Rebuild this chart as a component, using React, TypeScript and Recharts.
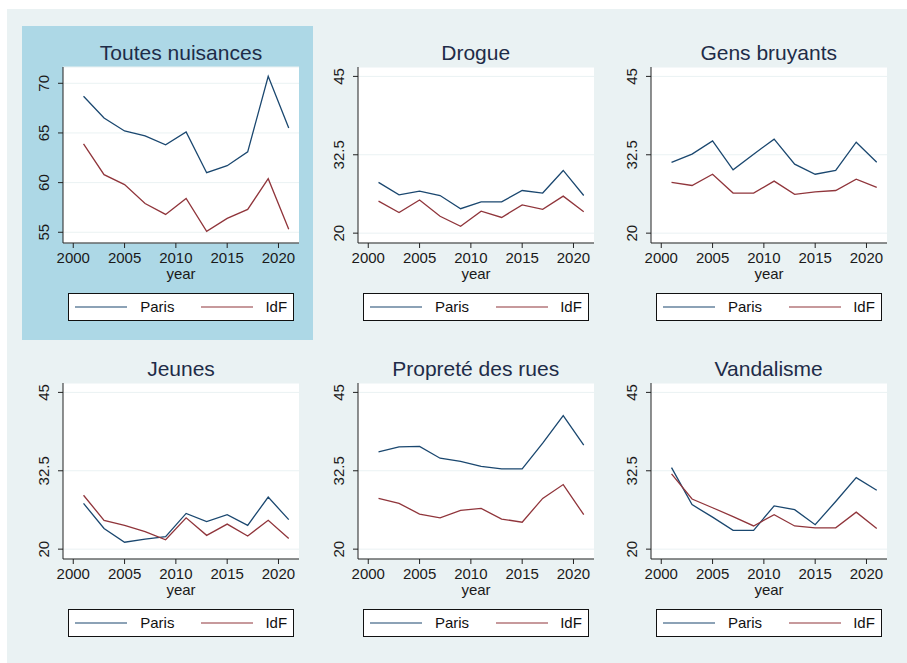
import { LineChart, Line, XAxis, YAxis, CartesianGrid } from "recharts";

const years = [2001, 2003, 2005, 2007, 2009, 2011, 2013, 2015, 2017, 2019, 2021];

const toutesParis = [68.7, 66.5, 65.2, 64.7, 63.8, 65.1, 61.0, 61.7, 63.1, 70.7, 65.5];
const toutesIdf = [63.9, 60.8, 59.8, 57.9, 56.8, 58.4, 55.1, 56.4, 57.3, 60.4, 55.3];
const drogueParis = [28.1, 26.1, 26.7, 26.0, 23.9, 25.0, 25.0, 26.8, 26.4, 30.0, 26.0];
const drogueIdf = [25.1, 23.3, 25.3, 22.7, 21.1, 23.5, 22.5, 24.5, 23.8, 25.9, 23.4];
const gensParis = [31.3, 32.6, 34.7, 30.1, 32.6, 35.0, 31.0, 29.4, 30.0, 34.5, 31.3];
const gensIdf = [28.1, 27.6, 29.4, 26.4, 26.4, 28.3, 26.2, 26.6, 26.8, 28.6, 27.3];
const jeunesParis = [27.3, 23.3, 21.1, 21.6, 22.0, 25.7, 24.4, 25.5, 23.8, 28.3, 24.7];
const jeunesIdf = [28.6, 24.6, 23.8, 22.8, 21.5, 25.0, 22.2, 24.0, 22.1, 24.6, 21.7];
const propreteParis = [35.5, 36.3, 36.4, 34.5, 34.0, 33.2, 32.8, 32.8, 36.9, 41.3, 36.6];
const propreteIdf = [28.1, 27.3, 25.6, 25.0, 26.2, 26.5, 24.8, 24.3, 28.1, 30.3, 25.5];
const vandalParis = [33.0, 27.1, 25.1, 23.0, 23.0, 26.9, 26.3, 23.9, 27.6, 31.4, 29.4];
const vandalIdf = [32.0, 28.0, 26.6, 25.2, 23.7, 25.5, 23.7, 23.4, 23.4, 25.9, 23.3];

const xTicks = [2000, 2005, 2010, 2015, 2020];
const firstTicks = [55, 60, 65, 70];
const otherTicks = [20, 32.5, 45];

const PARIS = "#1a476f";
const IDF = "#90353b";
const FONT = "'Liberation Sans', Arial, sans-serif";
const AXIS = "#222";

const toRows = (paris: number[], idf: number[]) =>
  years.map((year, i) => ({ year, Paris: paris[i], IdF: idf[i] }));

const panels = [
  { title: "Toutes nuisances", paris: toutesParis, idf: toutesIdf, ticks: firstTicks, domain: [53.92, 71.64] },
  { title: "Drogue", paris: drogueParis, idf: drogueIdf, ticks: otherTicks, domain: [18.43, 46.5] },
  { title: "Gens bruyants", paris: gensParis, idf: gensIdf, ticks: otherTicks, domain: [18.43, 46.5] },
  { title: "Jeunes", paris: jeunesParis, idf: jeunesIdf, ticks: otherTicks, domain: [18.43, 46.5] },
  { title: "Propreté des rues", paris: propreteParis, idf: propreteIdf, ticks: otherTicks, domain: [18.43, 46.5] },
  { title: "Vandalisme", paris: vandalParis, idf: vandalIdf, ticks: otherTicks, domain: [18.43, 46.5] },
];

const plotLefts = [63, 357.7, 650.7];
const plotTops = [67, 383.3];
const PLOT_W = 236;
const PLOT_H = 176;
const Y_W = 40;
const TOP = 5;

// rotated y tick labels, like stata
const YTick = (props: any) => {
  const { x, y, payload } = props;
  const bx = x - 6;
  return (
    <text x={bx} y={y} transform={`rotate(-90, ${bx}, ${y})`} textAnchor="middle" fontSize={15} fill="#1a1a1a" fontFamily={FONT}>
      {payload.value}
    </text>
  );
};

const YearLabel = (props: any) => {
  const vb = props.viewBox || {};
  return (
    <text x={vb.x + vb.width / 2} y={vb.y + 36} textAnchor="middle" fontSize={15} fill="#1a1a1a" fontFamily={FONT}>
      year
    </text>
  );
};

const LegendBox = ({ left, top }: { left: number; top: number }) => (
  <div
    style={{
      position: "absolute",
      left,
      top,
      width: 224,
      height: 26,
      border: "1px solid #111",
      background: "#fff",
      fontFamily: FONT,
      fontSize: 15,
      color: "#111",
    }}
  >
    <svg width={224} height={26} style={{ position: "absolute", left: 0, top: 0 }}>
      <line x1={6} x2={58} y1={13} y2={13} stroke={PARIS} strokeWidth={1.2} />
      <line x1={132} x2={184} y1={13} y2={13} stroke={IDF} strokeWidth={1.2} />
    </svg>
    <div style={{ position: "absolute", left: 68, top: 4, width: 40, textAlign: "center" }}>Paris</div>
    <div style={{ position: "absolute", left: 192, top: 4, width: 30, textAlign: "center" }}>IdF</div>
  </div>
);

const Panel = ({ index }: { index: number }) => {
  const p = panels[index];
  const col = index % 3;
  const row = Math.floor(index / 3);
  const plotLeft = plotLefts[col];
  const plotTop = plotTops[row];
  const data = toRows(p.paris, p.idf);
  return (
    <>
      <div
        style={{
          position: "absolute",
          left: plotLeft - 20,
          top: plotTop - 25,
          width: PLOT_W + 40,
          lineHeight: "21px",
          fontSize: 21,
          textAlign: "center",
          color: "#1e2c48",
          fontFamily: FONT,
        }}
      >
        {p.title}
      </div>
      <div style={{ position: "absolute", left: plotLeft - Y_W, top: plotTop - TOP }}>
        <LineChart
          width={Y_W + PLOT_W + 6}
          height={TOP + PLOT_H + 45}
          data={data}
          margin={{ top: TOP, right: 6, bottom: 0, left: 0 }}
        >
          <CartesianGrid vertical={false} stroke="#eaf2f3" fill="#fff" />
          <XAxis
            dataKey="year"
            type="number"
            domain={[1999, 2022]}
            ticks={xTicks}
            height={45}
            tickSize={5}
            tickMargin={4}
            stroke={AXIS}
            tick={{ fontSize: 15, fill: "#1a1a1a", fontFamily: FONT }}
            label={<YearLabel />}
          />
          <YAxis
            type="number"
            domain={p.domain}
            ticks={p.ticks}
            width={Y_W}
            tickSize={5}
            tickMargin={3}
            stroke={AXIS}
            allowDataOverflow
            tick={<YTick />}
          />
          <Line dataKey="Paris" stroke={PARIS} strokeWidth={1.3} dot={false} isAnimationActive={false} />
          <Line dataKey="IdF" stroke={IDF} strokeWidth={1.3} dot={false} isAnimationActive={false} />
        </LineChart>
      </div>
      <LegendBox left={plotLeft + 5.3} top={plotTop + 225.7} />
    </>
  );
};

export default function App() {
  return (
    <div style={{ position: "absolute", left: 0, top: 0, width: 907, height: 663, background: "#fff", overflow: "hidden" }}>
      <div style={{ position: "absolute", left: 7, top: 9, width: 900, height: 654, background: "#eaf2f3" }} />
      <div style={{ position: "absolute", left: 22, top: 26, width: 291, height: 314, background: "#add8e6" }} />
      {panels.map((_, i) => (
        <Panel key={i} index={i} />
      ))}
    </div>
  );
}
